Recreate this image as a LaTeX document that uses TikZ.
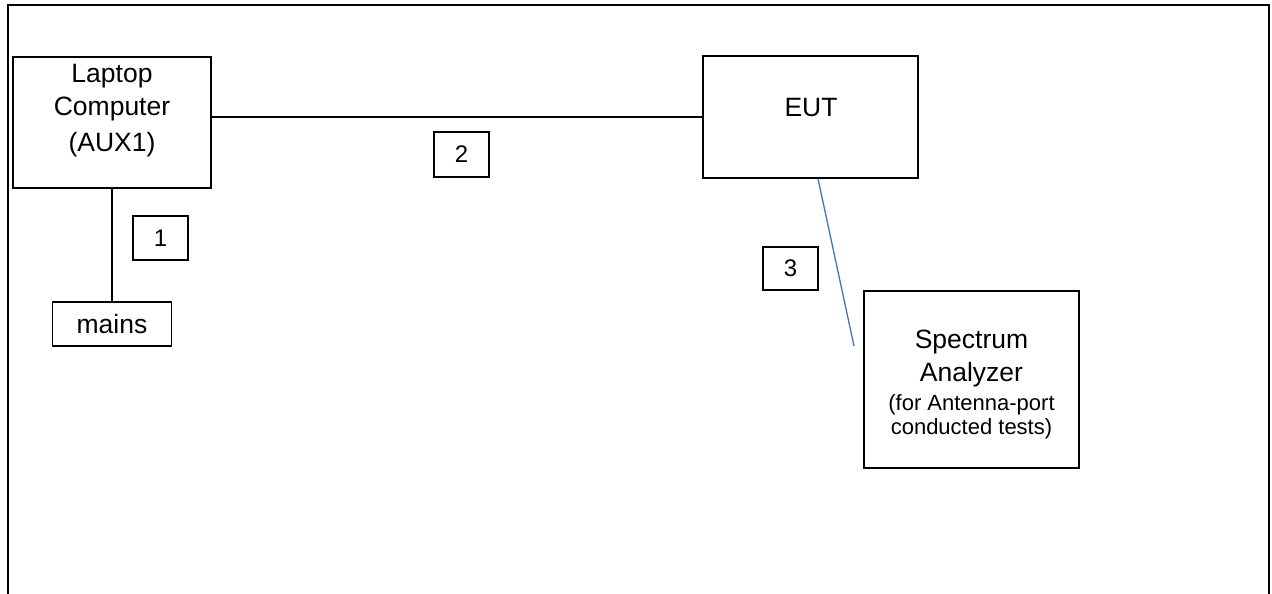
\documentclass[tikz,border=0pt]{standalone}
\usepackage{fontspec}
\setmainfont{Liberation Sans}
\definecolor{linkblue}{RGB}{68,114,196}
\begin{document}
\begin{tikzpicture}[x=1pt,y=-1pt,
  box/.style={draw=black,line width=1.6pt,inner sep=0pt,fill=white},
  numbox/.style={box,minimum width=55pt,minimum height=44pt,font=\fontsize{24}{28}\selectfont},
  big/.style={inner sep=0pt,anchor=base,font=\fontsize{26.5}{32}\selectfont},
  small/.style={inner sep=0pt,anchor=base,font=\fontsize{22}{26}\selectfont},
  wire/.style={draw=black,line width=1.6pt},
  bluewire/.style={draw=linkblue,line width=1.3pt}]
\useasboundingbox (0,0) rectangle (1272,594);
% outer frame (open at the bottom)
\draw[line width=2pt] (7.7,600) -- (7.7,4.6) -- (1269,4.6) -- (1269,600);

% main boxes
\node[box,minimum width=198pt,minimum height=131pt] (laptop) at (112,122.5) {};
\node[box,minimum width=119pt,minimum height=44pt,font=\fontsize{26.5}{32}\selectfont] (mains) at (112,324) {mains};
\node[box,minimum width=215pt,minimum height=122pt] (eut) at (810.5,117) {};
\node[box,minimum width=215pt,minimum height=177pt] (sa) at (971.5,379.5) {};

% texts
\node[big] (lap1) at (112,83) {Laptop};
\node[big] (lap2) at (112,115) {Computer};
\node[big] (lap3) at (112,151.7) {(AUX1)};
\node[big] (eutT) at (811,116) {EUT};
\node[big] (sa1) at (971.5,348.5) {Spectrum};
\node[big] (sa2) at (971.5,381) {Analyzer};
\node[small] (sa3) at (971.5,410.5) {(for Antenna-port};
\node[small] (sa4) at (971.5,434) {conducted tests)};

% number labels
\node[numbox] (n1) at (160.5,238) {1};
\node[numbox,minimum height=45pt] (n2) at (461.5,154.5) {2};
\node[numbox,minimum height=43pt] (n3) at (790.5,268.5) {3};

% connectors
\draw[wire] (eut.west -| laptop.east) -- (eut.west);
\draw[wire] (laptop.south) -- (mains.north);
\coordinate (eutPort) at ([xshift=7.5pt]eut.south);
\coordinate (saEnd) at (854,346);
\draw[bluewire] (eutPort) -- (saEnd);
\end{tikzpicture}
\end{document}
